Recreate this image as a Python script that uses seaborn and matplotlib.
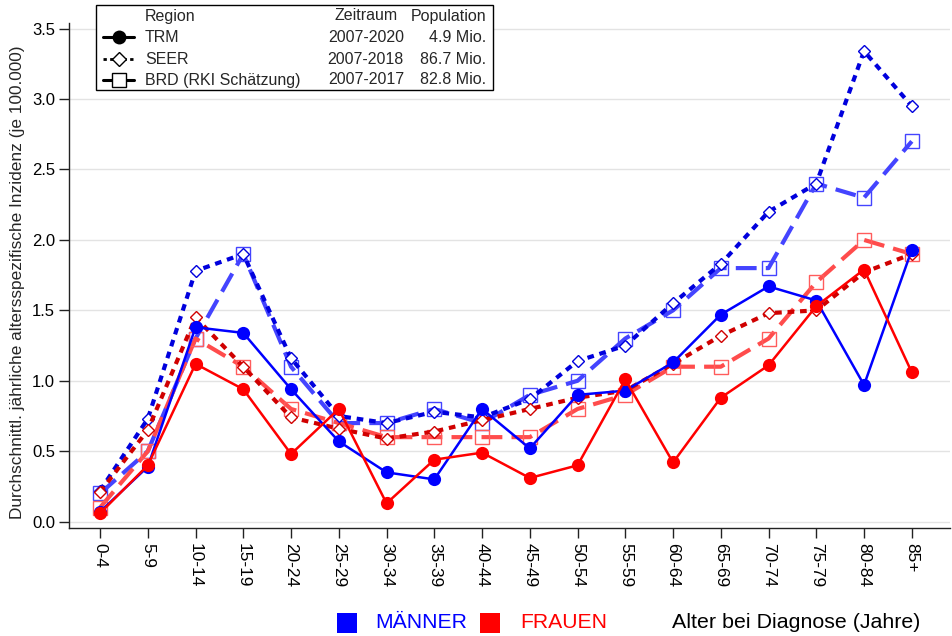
import numpy as np
import pandas as pd
import matplotlib
matplotlib.use("Agg")
import matplotlib.pyplot as plt
from matplotlib.lines import Line2D
from matplotlib.patches import Rectangle
import seaborn as sns

# Age groups at diagnosis
age_groups = ["0-4", "5-9", "10-14", "15-19", "20-24", "25-29", "30-34", "35-39",
              "40-44", "45-49", "50-54", "55-59", "60-64", "65-69", "70-74",
              "75-79", "80-84", "85+"]

# Average annual age-specific incidence per 100,000
trm_men = [0.07, 0.39, 1.38, 1.34, 0.94, 0.57, 0.35, 0.30, 0.80, 0.52,
           0.90, 0.93, 1.13, 1.47, 1.67, 1.57, 0.97, 1.93]
trm_women = [0.06, 0.40, 1.12, 0.94, 0.48, 0.80, 0.13, 0.44, 0.49, 0.31,
             0.40, 1.01, 0.42, 0.88, 1.11, 1.53, 1.79, 1.06]
seer_men = [0.22, 0.73, 1.78, 1.90, 1.16, 0.75, 0.70, 0.78, 0.74, 0.87,
            1.14, 1.25, 1.55, 1.83, 2.20, 2.40, 3.34, 2.95]
seer_women = [0.21, 0.65, 1.45, 1.10, 0.74, 0.66, 0.59, 0.64, 0.72, 0.80,
              0.88, 0.93, 1.12, 1.32, 1.48, 1.50, 1.77, 1.90]
brd_men = [0.2, 0.5, 1.3, 1.9, 1.1, 0.7, 0.7, 0.8, 0.7, 0.9,
           1.0, 1.3, 1.5, 1.8, 1.8, 2.4, 2.3, 2.7]
brd_women = [0.1, 0.5, 1.3, 1.1, 0.8, 0.7, 0.6, 0.6, 0.6, 0.6,
             0.8, 0.9, 1.1, 1.1, 1.3, 1.7, 2.0, 1.9]

y_ticks = [0.0, 0.5, 1.0, 1.5, 2.0, 2.5, 3.0, 3.5]

legend_regions = ["TRM", "SEER", "BRD (RKI Schätzung)"]
legend_periods = ["2007-2020", "2007-2018", "2007-2017"]
legend_population = ["4.9 Mio.", "86.7 Mio.", "82.8 Mio."]

series = {
    ("BRD", "Männer"): brd_men,
    ("BRD", "Frauen"): brd_women,
    ("SEER", "Männer"): seer_men,
    ("SEER", "Frauen"): seer_women,
    ("TRM", "Männer"): trm_men,
    ("TRM", "Frauen"): trm_women,
}

rows = []
for (region, sex), vals in series.items():
    for i, v in enumerate(vals):
        rows.append({"region": region, "sex": sex, "pos": i, "value": v})
df = pd.DataFrame(rows)

styles = {
    ("TRM", "Männer"): dict(color="#0000ff", lw=1.8, ls="-", marker="o", ms=9.5,
                            mfc="#0000ff", mec="#0000ff", mew=0, z=6),
    ("TRM", "Frauen"): dict(color="#ff0000", lw=1.8, ls="-", marker="o", ms=9.5,
                            mfc="#ff0000", mec="#ff0000", mew=0, z=7),
    ("SEER", "Männer"): dict(color="#0000dd", lw=3.0, ls=(0, (1.6, 1.4)), marker="D", ms=6.5,
                             mfc="white", mec="#0000dd", mew=1.0, z=4),
    ("SEER", "Frauen"): dict(color="#d00000", lw=3.0, ls=(0, (1.6, 1.4)), marker="D", ms=6.5,
                             mfc="white", mec="#d00000", mew=1.0, z=5),
    ("BRD", "Männer"): dict(color="#4444ff", lw=3.0, ls=(0, (5, 2.2)), marker="s", ms=10,
                            mfc="none", mec="#4444ff", mew=1.0, z=2),
    ("BRD", "Frauen"): dict(color="#ff4c4c", lw=3.0, ls=(0, (5, 2.2)), marker="s", ms=10,
                            mfc="none", mec="#ff5c5c", mew=1.0, z=3),
}

sns.set_theme(style="white")
plt.rcParams["font.family"] = ["Liberation Sans", "DejaVu Sans"]

fig = plt.figure(figsize=(9.52, 6.36), dpi=100)
ax = fig.add_axes([69 / 952, 1 - 528 / 636, (950 - 69) / 952, (528 - 23) / 636])

for key, st in styles.items():
    sub = df[(df["region"] == key[0]) & (df["sex"] == key[1])]
    sns.lineplot(data=sub, x="pos", y="value", ax=ax, color=st["color"],
                 linewidth=st["lw"], linestyle=st["ls"], marker=st["marker"],
                 markersize=st["ms"], markerfacecolor=st["mfc"],
                 markeredgecolor=st["mec"], markeredgewidth=st["mew"],
                 zorder=st["z"], legend=False, errorbar=None)

ax.set_xlim(-0.65, 17.8)
ax.set_ylim(-0.045, 3.54)
ax.set_xticks(range(len(age_groups)))
ax.set_xticklabels(age_groups, rotation=270, fontsize=12.4, va="top", ha="center")
ax.set_yticks(y_ticks)
ax.set_yticklabels([f"{t:.1f}" for t in y_ticks], fontsize=12)
ax.set_xlabel("")
ax.set_ylabel("Durchschnittl. jährliche altersspezifische Inzidenz (je 100.000)",
              fontsize=12.4)
ax.yaxis.set_label_coords(-44 / 881, 0.487)
ax.yaxis.grid(True, color="#e3e3e3", linewidth=1.0, zorder=0)
ax.xaxis.grid(False)
ax.set_axisbelow(True)
for side in ["top", "right"]:
    ax.spines[side].set_visible(False)
for side in ["left", "bottom"]:
    ax.spines[side].set_color("#222222")
    ax.spines[side].set_linewidth(1.0)
ax.tick_params(axis="both", which="major", direction="out", length=7, width=1.0,
               color="#222222", left=True, bottom=True, labelcolor="black")
ax.tick_params(axis="x", pad=4)
ax.tick_params(axis="y", pad=3)

# Region legend drawn as a framed table in pixel coordinates
W, H = 952, 636


def fx(px):
    return px / W


def fy(py):
    return 1 - py / H


fig.patches.append(Rectangle((fx(96), fy(90)), fx(493) - fx(96), fy(5) - fy(90),
                             transform=fig.transFigure, facecolor="white",
                             edgecolor="black", linewidth=1.0, zorder=10))
fs_leg = 11.5
row_y = [37, 59, 80]
header_y = 16
fig.text(fx(145), fy(header_y), "Region", fontsize=fs_leg, va="center", ha="left", zorder=11)
fig.text(fx(366), fy(header_y), "Zeitraum", fontsize=fs_leg, va="center", ha="center", zorder=11)
fig.text(fx(486), fy(header_y), "Population", fontsize=fs_leg, va="center", ha="right", zorder=11)
handle_styles = [
    dict(ls="-", lw=2.2, marker="o", ms=10, mfc="black", mew=0),
    dict(ls=(0, (1.2, 1.2)), lw=2.0, marker="D", ms=7, mfc="white", mew=1.0),
    dict(ls="-", lw=2.2, marker="s", ms=10, mfc="white", mew=1.0),
]
for y, name, per, pop, hs in zip(row_y, legend_regions, legend_periods,
                                 legend_population, handle_styles):
    fig.lines.append(Line2D([fx(103), fx(134)], [fy(y), fy(y)], transform=fig.transFigure,
                            color="black", linestyle=hs["ls"], linewidth=hs["lw"], zorder=11))
    fig.lines.append(Line2D([fx(118.5)], [fy(y)], transform=fig.transFigure, color="black",
                            marker=hs["marker"], markersize=hs["ms"],
                            markerfacecolor=hs["mfc"], markeredgecolor="black",
                            markeredgewidth=hs["mew"], linestyle="none", zorder=12))
    fig.text(fx(145), fy(y), name, fontsize=fs_leg, va="center", ha="left", zorder=11)
    fig.text(fx(404), fy(y), per, fontsize=fs_leg, va="center", ha="right", zorder=11)
    fig.text(fx(486), fy(y), pop, fontsize=fs_leg, va="center", ha="right", zorder=11)

# Sex colour key and x-axis title along the bottom
fig.patches.append(Rectangle((fx(337), fy(633)), fx(20), 20 / H, transform=fig.transFigure,
                             facecolor="#0000ff", edgecolor="none"))
fig.text(fx(375), fy(623), "MÄNNER", color="#0000ff", fontsize=15.2, va="center", ha="left")
fig.patches.append(Rectangle((fx(480), fy(633)), fx(20), 20 / H, transform=fig.transFigure,
                             facecolor="#ff0000", edgecolor="none"))
fig.text(fx(520), fy(623), "FRAUEN", color="#ff0000", fontsize=15.2, va="center", ha="left")
fig.text(fx(672), fy(622), "Alter bei Diagnose (Jahre)", color="black", fontsize=15.4,
         va="center", ha="left")

fig.savefig("out.png", dpi=100, facecolor="white")
